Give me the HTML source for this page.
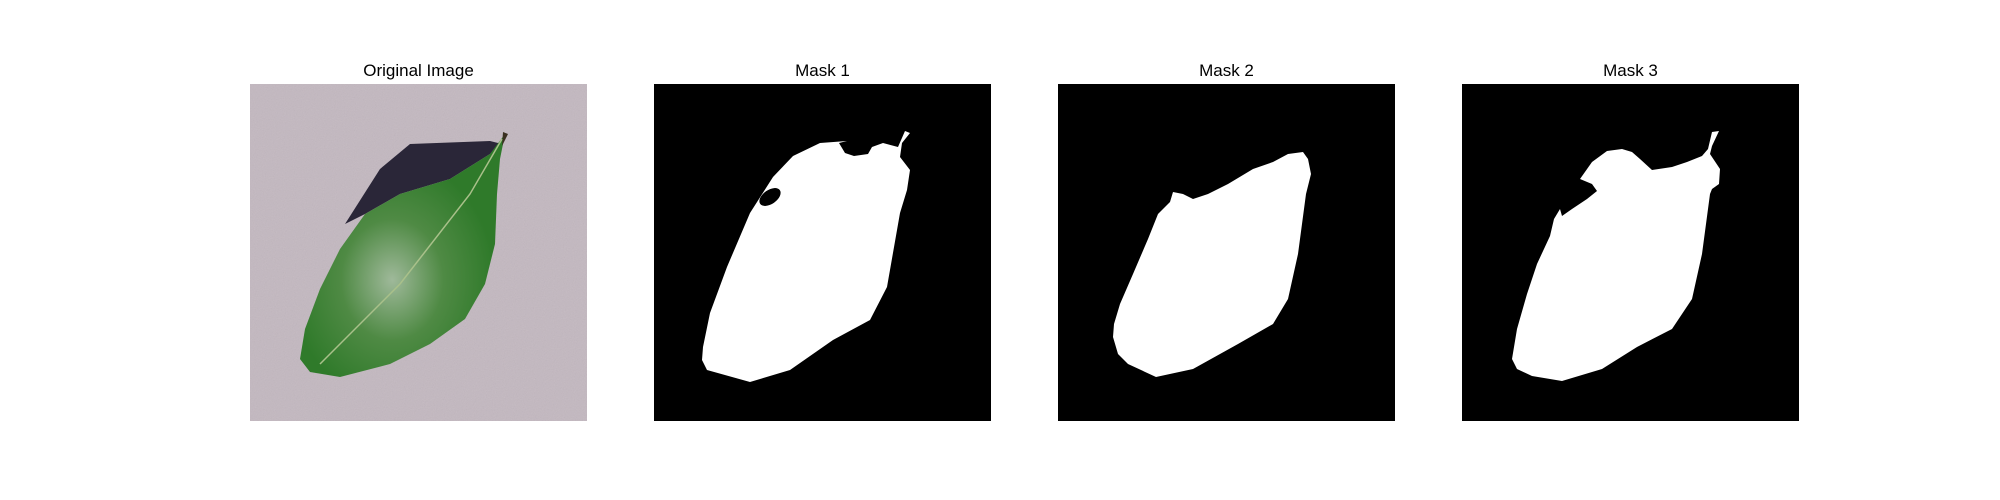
<!DOCTYPE html>
<html><head><meta charset="utf-8"><style>
html,body{margin:0;padding:0;background:#fff;}
body{width:2000px;height:500px;position:relative;overflow:hidden;font-family:"Liberation Sans","DejaVu Sans",sans-serif;}
.t{position:absolute;font-size:17px;color:#000;text-align:center;width:337px;top:61px;}
svg.p{position:absolute;top:84px;width:337px;height:337px;}
</style></head><body>
<div class="t" style="left:250px">Original Image</div>
<div class="t" style="left:654px">Mask 1</div>
<div class="t" style="left:1058px">Mask 2</div>
<div class="t" style="left:1462px">Mask 3</div>

<svg class="p" style="left:250px" viewBox="0 0 337 337">
<defs>
<filter id="n"><feTurbulence type="fractalNoise" baseFrequency="0.9" numOctaves="2" result="t"/><feColorMatrix type="saturate" values="0"/><feComponentTransfer><feFuncA type="linear" slope="0.25"/></feComponentTransfer></filter>
<radialGradient id="g" cx="0.45" cy="0.6" r="0.5"><stop offset="0" stop-color="#9fb99a"/><stop offset="0.5" stop-color="#4f8a44"/><stop offset="1" stop-color="#2f7a2a"/></radialGradient>
</defs>
<rect width="337" height="337" fill="#c3b8c0"/>
<rect width="337" height="337" filter="url(#n)" opacity="0.6"/>
<path d="M95,140 L130,85 L160,60 L240,57 L252,60 L240,70 L200,95 L150,110 L115,130 Z" fill="#2a2638"/>
<path d="M255,50 L250,75 L247,110 L245,160 L235,200 L215,235 L180,260 L140,280 L90,293 L60,288 L50,275 L55,245 L70,205 L90,165 L115,130 L150,110 L200,95 L240,70 Z" fill="url(#g)"/>
<path d="M252,55 L220,110 L150,200 L70,280" stroke="#a9c08a" stroke-width="1.5" fill="none"/>
<path d="M253,48 L258,50 L252,62 Z" fill="#3a3020"/>
</svg>

<svg class="p" style="left:654px" viewBox="0 0 337 337">
<rect width="337" height="337" fill="#000"/>
<path d="M48,276 L53,286 L96,298 L136,286 L179,256 L216,236 L233,203 L246,129 L253,106 L256,86 L246,73 L248,59 L256,49 L251,47 L244,63 L229,59 L218,63 L214,70 L200,72 L191,69 L185,59 L193,57 L166,59 L139,72 L119,93 L96,129 L73,183 L56,229 L49,263 Z" fill="#fff"/>
<ellipse cx="116" cy="113" rx="12" ry="7" transform="rotate(-35 116 113)" fill="#000"/>
</svg>

<svg class="p" style="left:1058px" viewBox="0 0 337 337">
<rect width="337" height="337" fill="#000"/>
<path d="M55,253 L60,270 L70,280 L98,293 L135,285 L180,260 L215,240 L230,215 L240,170 L248,110 L253,90 L250,75 L245,68 L230,70 L215,78 L195,85 L170,100 L150,110 L135,115 L125,110 L115,108 L112,118 L100,130 L90,155 L75,190 L62,220 L56,240 Z" fill="#fff"/>
</svg>

<svg class="p" style="left:1462px" viewBox="0 0 337 337">
<rect width="337" height="337" fill="#000"/>
<path d="M50,275 L55,285 L70,292 L100,297 L140,285 L175,263 L210,245 L230,215 L240,170 L248,110 L250,105 L257,100 L258,85 L248,70 L250,62 L257,47 L250,48 L246,65 L240,72 L225,78 L210,83 L190,86 L178,75 L170,68 L160,65 L145,67 L130,78 L118,95 L130,100 L135,107 L125,115 L110,125 L100,132 L98,125 L92,135 L88,152 L75,180 L65,210 L55,245 Z" fill="#fff"/>
</svg>
</body></html>
